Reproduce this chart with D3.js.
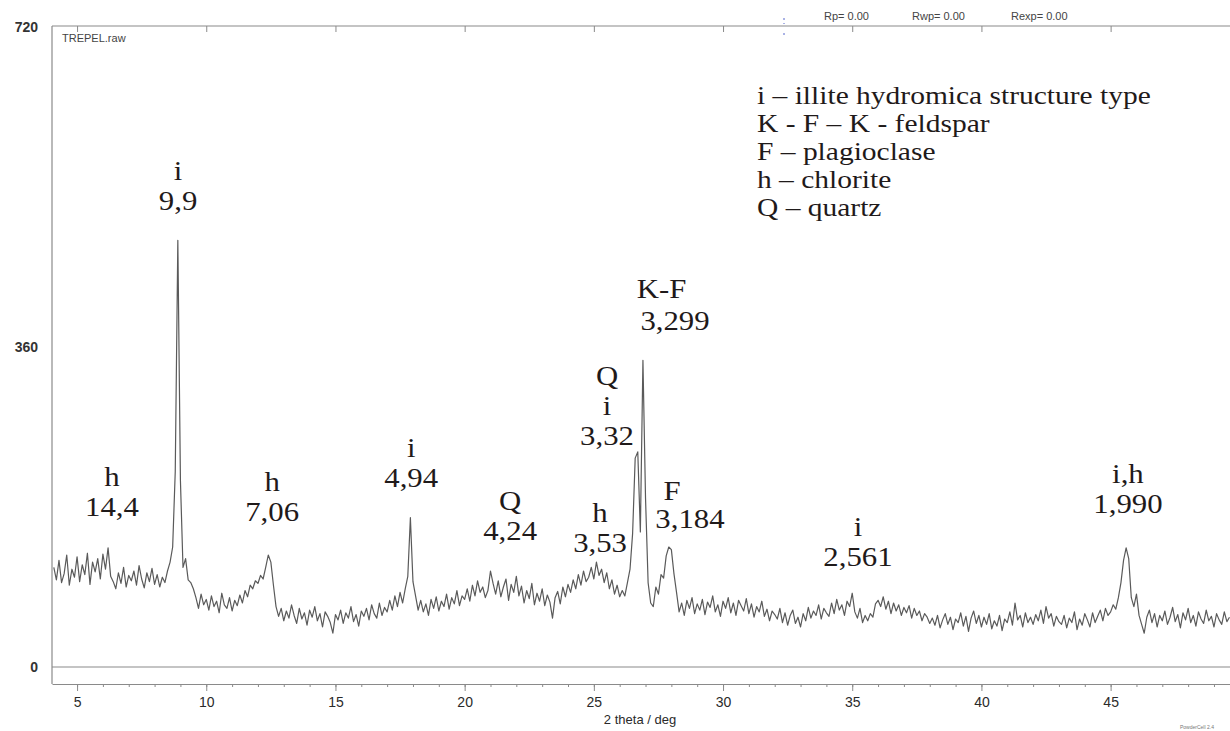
<!DOCTYPE html>
<html>
<head>
<meta charset="utf-8">
<script src="https://cdn.jsdelivr.net/npm/d3@7"></script>
<style>
  body { margin: 0; background: #fff; }
  svg { display: block; }
</style>
</head>
<body>
<svg id="chart" width="1230" height="731"></svg>
<script>
// scan grid of the diffractometer (deg 2 theta)
const scanStart = 4.1;
const scanStep = 0.1;

const counts = [
  112, 98, 120, 95, 105, 126, 92, 110, 101, 124,   // 4.1 - 5.0
  96, 115, 104, 128, 93, 118, 107, 122, 99, 127,   // 5.1 - 6.0
  110, 134, 102, 96, 88, 106, 94, 112, 90, 103,    // 6.1 - 7.0
  97, 108, 92, 114, 99, 89, 106, 96, 111, 93,      // 7.1 - 8.0
  104, 90, 101, 95, 108, 118, 135, 220, 480, 210,  // 8.1 - 9.0
  112, 122, 98, 95, 88, 78, 66, 82, 70, 76,        // 9.1 - 10.0
  64, 80, 68, 74, 61, 83, 70, 66, 78, 63,          // 10.1 - 11.0
  75, 69, 81, 72, 86, 79, 92, 88, 97, 94,          // 11.1 - 12.0
  103, 99, 112, 126, 118, 92, 68, 57, 66, 52,      // 12.1 - 13.0
  63, 55, 70, 58, 49, 66, 54, 61, 47, 64,          // 13.1 - 14.0
  56, 68, 52, 60, 45, 62, 57, 50, 38, 59,          // 14.1 - 15.0
  53, 64, 49, 61, 55, 68, 51, 59, 46, 63,          // 15.1 - 16.0
  57, 66, 53, 70, 60, 55, 72, 58, 67, 62,          // 16.1 - 17.0
  75, 64, 80, 68, 84, 72, 88, 102, 168, 96,        // 17.1 - 18.0
  80, 64, 75, 62, 71, 58, 76, 66, 79, 63,          // 18.1 - 19.0
  74, 68, 82, 65, 78, 71, 86, 69, 80, 76,          // 19.1 - 20.0
  88, 74, 92, 80, 97, 84, 90, 78, 86, 108,         // 20.1 - 21.0
  94, 82, 97, 79, 90, 99, 75, 93, 84, 102,         // 21.1 - 22.0
  80, 91, 72, 86, 77, 94, 70, 83, 74, 88,          // 22.1 - 23.0
  69, 81, 73, 55, 78, 85, 71, 90, 79, 93,          // 23.1 - 24.0
  84, 98, 88, 104, 92, 108, 96, 101, 112, 99,      // 24.1 - 25.0
  118, 103, 110, 95, 106, 88, 98, 82, 92, 79,      // 25.1 - 26.0
  86, 80, 95, 110, 150, 235, 242, 152, 345, 190,   // 26.1 - 27.0
  95, 72, 68, 90, 82, 104, 100, 125, 135, 132,     // 27.1 - 28.0
  105, 84, 62, 72, 58, 75, 66, 78, 60, 71,         // 28.1 - 29.0
  64, 76, 59, 73, 67, 80, 62, 70, 57, 74,          // 29.1 - 30.0
  66, 78, 61, 72, 58, 75, 69, 63, 77, 60,          // 30.1 - 31.0
  71, 56, 68, 62, 74, 57, 65, 52, 63, 59,          // 31.1 - 32.0
  54, 66, 50, 61, 47, 58, 64, 49, 56, 45,          // 32.1 - 33.0
  60, 52, 67, 55, 63, 58, 70, 54, 66, 61,          // 33.1 - 34.0
  57, 72, 60, 76, 64, 70, 58, 74, 68, 83,          // 34.1 - 35.0
  62, 55, 66, 50, 58, 52, 60, 56, 71, 75,          // 35.1 - 36.0
  68, 79, 65, 74, 60, 72, 63, 70, 58, 67,          // 36.1 - 37.0
  61, 69, 55, 66, 58, 63, 52, 60, 56, 49,          // 37.1 - 38.0
  55, 47, 58, 44, 53, 60, 48, 56, 42, 54,          // 38.1 - 39.0
  50, 61, 46, 57, 40, 55, 63, 49, 58, 45,          // 39.1 - 40.0
  56, 48, 60, 43, 52, 46, 58, 41, 54, 50,          // 40.1 - 41.0
  62, 47, 72, 53, 58, 45, 61, 50, 56, 48,          // 41.1 - 42.0
  59, 52, 64, 49, 68, 55, 60, 46, 57, 51,          // 42.1 - 43.0
  48, 58, 44, 55, 50, 62, 42, 54, 47, 60,          // 43.1 - 44.0
  53, 45, 61, 50, 57, 64, 52, 66, 58, 62,          // 44.1 - 45.0
  70, 65, 78, 95, 120, 134, 122, 78, 68, 82,       // 45.1 - 46.0
  58, 48, 38, 56, 64, 50, 60, 45, 58, 52,          // 46.1 - 47.0
  63, 48, 56, 67, 51, 59, 44, 61, 53, 66,          // 47.1 - 48.0
  50, 58, 46, 62, 54, 49, 64, 52, 57, 45,          // 48.1 - 49.0
  60, 53, 48, 62, 51, 56                           // 49.1 - 49.6
];

// axis ticks
const xMajorTicks = [5, 10, 15, 20, 25, 30, 35, 40, 45];
const xMinorTicks = [5, 6, 7, 8, 9, 10, 11, 12, 13, 14, 15, 16, 17, 18, 19, 20, 21, 22, 23, 24,
  25, 26, 27, 28, 29, 30, 31, 32, 33, 34, 35, 36, 37, 38, 39, 40, 41, 42, 43, 44, 45, 46, 47, 48, 49];
const yTickLabels = [0, 360, 720];

// phase labels: peak position (2 theta), count level of the last line, text lines
const peakLabels = [
  { theta: 6.35,  level: 170, lines: ["h", "14,4"] },
  { theta: 8.91,  level: 514, lines: ["i", "9,9"] },
  { theta: 12.55, level: 164, lines: ["h", "7,06"] },
  { theta: 17.93, level: 203, lines: ["i", "4,94"] },
  { theta: 21.76, level: 143, lines: ["Q", "4,24"] },
  { theta: 25.24, level: 129, lines: ["h", "3,53"] },
  { theta: 25.51, level: 250, lines: ["Q", "i", "3,32"] },
  { theta: 27.62, level: 415, lines: ["K-F"] },
  { theta: 28.14, level: 379, lines: ["3,299"] },
  { theta: 28.03, level: 188, lines: ["F"] },
  { theta: 28.72, level: 156, lines: ["3,184"] },
  { theta: 35.22, level: 114, lines: ["i", "2,561"] },
  { theta: 45.67, level: 173, lines: ["i,h", "1,990"] }
];

// key of the phase symbols
const legendLines = [
  "i \u2013 illite hydromica structure type",
  "K - F \u2013 K - feldspar",
  "F \u2013 plagioclase",
  "h \u2013 chlorite",
  "Q \u2013 quartz"
];

const fitStats = ["Rp= 0.00", "Rwp= 0.00", "Rexp= 0.00"];

// ---------------------------------------------------------------

const svg = d3.select("#chart");

const plotLeft = 52, plotRight = 1230, frameTop = 26, axisY = 684;

const x = d3.scaleLinear().domain([4.03, 49.62]).range([plotLeft, plotRight]);
const y = d3.scaleLinear().domain([0, 720]).range([667, 27]);

const pattern = counts.map((c, i) => ({ theta: scanStart + i * scanStep, count: c }));

const frameColor = "#8a8a8a";

// frame
svg.append("line")
  .attr("x1", plotLeft).attr("x2", plotLeft)
  .attr("y1", frameTop).attr("y2", axisY)
  .attr("stroke", frameColor).attr("stroke-width", 1.2);

svg.append("line")
  .attr("x1", plotLeft).attr("x2", plotRight)
  .attr("y1", frameTop).attr("y2", frameTop)
  .attr("stroke", frameColor).attr("stroke-width", 1.2);

// zero line
svg.append("line")
  .attr("x1", plotLeft).attr("x2", plotRight)
  .attr("y1", y(0)).attr("y2", y(0))
  .attr("stroke", frameColor).attr("stroke-width", 1.2);

// bottom axis, minor then major
svg.append("g")
  .attr("transform", `translate(0,${axisY})`)
  .call(d3.axisBottom(x).tickValues(xMinorTicks).tickSize(3).tickFormat(""))
  .call(g => g.select(".domain").remove())
  .call(g => g.selectAll("line").attr("stroke", frameColor));

const xAxis = svg.append("g")
  .attr("transform", `translate(0,${axisY})`)
  .call(d3.axisBottom(x).tickValues(xMajorTicks).tickSize(7).tickSizeOuter(0).tickPadding(6));

xAxis.select(".domain").attr("stroke", frameColor).attr("stroke-width", 1.2);
xAxis.selectAll("line").attr("stroke", frameColor);
xAxis.selectAll("text")
  .attr("font-family", "Liberation Sans, Arial, sans-serif")
  .attr("font-size", 14)
  .attr("fill", "#2a2a2a");

// top ticks
svg.append("g")
  .attr("transform", `translate(0,${frameTop})`)
  .call(d3.axisBottom(x).tickValues(xMajorTicks).tickSize(6).tickFormat(""))
  .call(g => g.select(".domain").remove())
  .call(g => g.selectAll("line").attr("stroke", frameColor));

// y labels
svg.append("g")
  .selectAll("text")
  .data(yTickLabels)
  .join("text")
  .attr("x", 38)
  .attr("y", d => y(d))
  .attr("dy", "0.35em")
  .attr("text-anchor", "end")
  .attr("font-family", "Liberation Sans, Arial, sans-serif")
  .attr("font-size", 14)
  .attr("font-weight", "bold")
  .attr("fill", "#333")
  .text(d => d);

// axis title
svg.append("text")
  .attr("x", 640).attr("y", 724)
  .attr("text-anchor", "middle")
  .attr("font-family", "Liberation Sans, Arial, sans-serif")
  .attr("font-size", 13)
  .attr("fill", "#2a2a2a")
  .text("2 theta / deg");

// file name
svg.append("text")
  .attr("x", 62).attr("y", 42)
  .attr("font-family", "Liberation Sans, Arial, sans-serif")
  .attr("font-size", 11)
  .attr("fill", "#444")
  .text("TREPEL.raw");

// fit statistics above the frame
svg.append("g")
  .selectAll("text")
  .data(fitStats)
  .join("text")
  .attr("x", (d, i) => [824, 912, 1011][i])
  .attr("y", 20)
  .attr("font-family", "Liberation Sans, Arial, sans-serif")
  .attr("font-size", 11)
  .attr("fill", "#444")
  .text(d => d);

// small blue marker on the top frame
svg.append("line")
  .attr("x1", 784).attr("x2", 784)
  .attr("y1", 18).attr("y2", 36)
  .attr("stroke", "#5566cc")
  .attr("stroke-width", 1)
  .attr("stroke-dasharray", "2,3,1,9");

// program tag, bottom right
svg.append("text")
  .attr("x", 1180).attr("y", 729)
  .attr("font-family", "Liberation Sans, Arial, sans-serif")
  .attr("font-size", 5)
  .attr("fill", "#777")
  .text("PowderCell 2.4");

// diffraction pattern
const line = d3.line()
  .x(d => x(d.theta))
  .y(d => y(d.count));

svg.append("path")
  .datum(pattern)
  .attr("d", line)
  .attr("fill", "none")
  .attr("stroke", "#5a5a5a")
  .attr("stroke-width", 1.2)
  .attr("stroke-linejoin", "round");

// peak labels, serif and slightly widened like the scan
const stretch = 1.14;
const labelFont = "Liberation Serif, Times New Roman, serif";
const lineGap = 30;

peakLabels.forEach(lab => {
  const n = lab.lines.length;
  const g = svg.append("g")
    .attr("transform", `translate(${x(lab.theta)},${y(lab.level)}) scale(${stretch},1)`);
  g.selectAll("text")
    .data(lab.lines)
    .join("text")
    .attr("x", 0)
    .attr("y", (d, i) => (i - n + 1) * lineGap)
    .attr("text-anchor", "middle")
    .attr("font-family", labelFont)
    .attr("font-size", 27)
    .attr("fill", "#1f1a1a")
    .text(d => d);
});

// legend
const legend = svg.append("g")
  .attr("transform", "translate(757,104) scale(1.18,1)");

legend.selectAll("text")
  .data(legendLines)
  .join("text")
  .attr("x", 0)
  .attr("y", (d, i) => i * 28)
  .attr("font-family", labelFont)
  .attr("font-size", 25)
  .attr("fill", "#1f1a1a")
  .text(d => d);
</script>
</body>
</html>
